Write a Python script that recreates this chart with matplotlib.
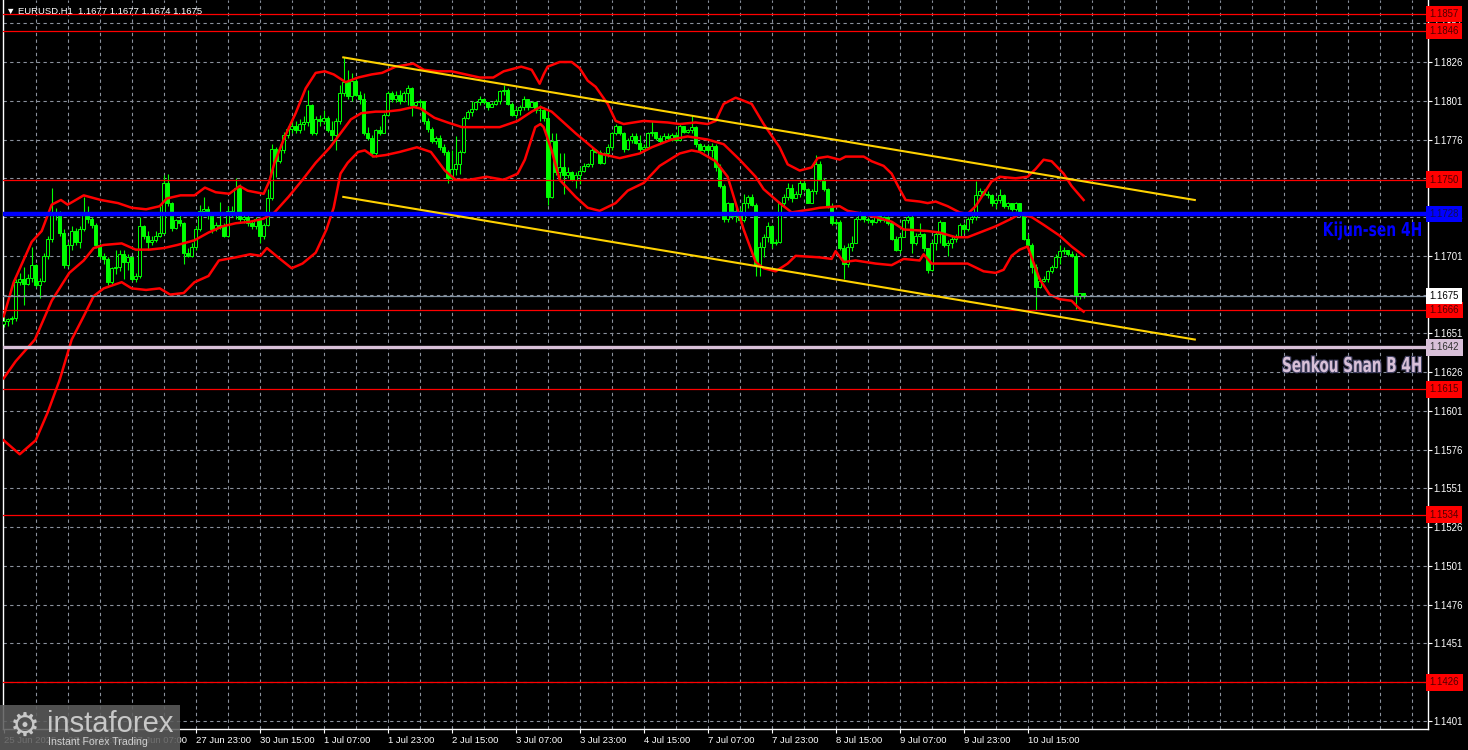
import matplotlib
matplotlib.use("Agg")
import matplotlib.pyplot as plt
import matplotlib.patheffects as pe
from matplotlib.patches import Rectangle, PathPatch
from matplotlib.textpath import TextPath
from matplotlib.font_manager import FontProperties
from matplotlib.transforms import Affine2D
import numpy as np

# EURUSD H1 candles, bar 0 = 25 Jun 23:00
first_open = 1.1657
closes = [
    1.1659, 1.1660, 1.1661, 1.1684, 1.1686, 1.1683, 1.1687, 1.1695, 1.1682, 1.1685,
    1.1701, 1.1712, 1.1729, 1.1728, 1.1716, 1.1695, 1.1708, 1.1717, 1.1710, 1.1718,
    1.1729, 1.1725, 1.1721, 1.1708, 1.1701, 1.1699, 1.1684, 1.1693, 1.1694, 1.1702,
    1.1697, 1.1700, 1.1686, 1.1688, 1.1720, 1.1714, 1.1710, 1.1711, 1.1714, 1.1716,
    1.1748, 1.1735, 1.1719, 1.1724, 1.1722, 1.1703, 1.1701, 1.1707, 1.1718, 1.1730,
    1.1731, 1.1728, 1.1718, 1.1721, 1.1720, 1.1714, 1.1730, 1.1728, 1.1745, 1.1725,
    1.1726, 1.1722, 1.1720, 1.1725, 1.1714, 1.1721, 1.1738, 1.1770, 1.1762, 1.1769,
    1.1779, 1.1783, 1.1785, 1.1782, 1.1786, 1.1787, 1.1798, 1.1780, 1.1789, 1.1788,
    1.1790, 1.1782, 1.1779, 1.1788, 1.1806, 1.1813, 1.1804, 1.1814, 1.1805, 1.1802,
    1.1780, 1.1777, 1.1767, 1.1782, 1.1780, 1.1792, 1.1806, 1.1802, 1.1805, 1.1801,
    1.1806, 1.1809, 1.1798, 1.1800, 1.1801, 1.1788, 1.1783, 1.1775, 1.1777, 1.1771,
    1.1768, 1.1751, 1.1757, 1.1760, 1.1768, 1.1790, 1.1794, 1.1796, 1.1800, 1.1802,
    1.1800, 1.1797, 1.1799, 1.1801, 1.1807, 1.1808, 1.1799, 1.1792, 1.1795, 1.1797,
    1.1802, 1.1797, 1.1800, 1.1795, 1.1795, 1.1790, 1.1739, 1.1775, 1.1755, 1.1758,
    1.1753, 1.1755, 1.1750, 1.1753, 1.1756, 1.1759, 1.1760, 1.1769, 1.1768, 1.1761,
    1.1767, 1.1771, 1.1780, 1.1785, 1.1780, 1.1770, 1.1776, 1.1778, 1.1774, 1.1770,
    1.1771, 1.1780, 1.1781, 1.1777, 1.1775, 1.1778, 1.1777, 1.1779, 1.1776, 1.1785,
    1.1781, 1.1782, 1.1784, 1.1773, 1.1769, 1.1772, 1.1769, 1.1772, 1.1758, 1.1746,
    1.1725, 1.1735, 1.1727, 1.1730, 1.1724, 1.1735, 1.1739, 1.1734, 1.1695, 1.1707,
    1.1713, 1.1720, 1.1709, 1.1710, 1.1735, 1.1739, 1.1745, 1.1738, 1.1741, 1.1748,
    1.1744, 1.1735, 1.1743, 1.1760, 1.1750, 1.1744, 1.1733, 1.1722, 1.1723, 1.1706,
    1.1696, 1.1707, 1.1709, 1.1725, 1.1728, 1.1725, 1.1724, 1.1723, 1.1728, 1.1724,
    1.1726, 1.1722, 1.1712, 1.1705, 1.1713, 1.1724, 1.1726, 1.1709, 1.1714, 1.1715,
    1.1706, 1.1692, 1.1709, 1.1715, 1.1723, 1.1708, 1.1709, 1.1712, 1.1714, 1.1721,
    1.1718, 1.1725, 1.1726, 1.1740, 1.1743, 1.1741, 1.1740, 1.1735, 1.1737, 1.1740,
    1.1733, 1.1735, 1.1731, 1.1735, 1.1728, 1.1712, 1.1708, 1.1694, 1.1681, 1.1685,
    1.1686, 1.1691, 1.1694, 1.1700, 1.1704, 1.1705, 1.1702, 1.1701, 1.1675, 1.1677,
    1.1675,
]
highs = [
    1.1662, 1.1661, 1.1662, 1.1686, 1.1690, 1.1694, 1.1689, 1.1707, 1.1696, 1.1687,
    1.1703, 1.1714, 1.1745, 1.1732, 1.1730, 1.1718, 1.1710, 1.1720, 1.1719, 1.1720,
    1.1739, 1.1733, 1.1726, 1.1722, 1.1709, 1.1703, 1.1700, 1.1694, 1.1705, 1.1705,
    1.1705, 1.1702, 1.1701, 1.1690, 1.1726, 1.1721, 1.1717, 1.1714, 1.1717, 1.1733,
    1.1753, 1.1754, 1.1736, 1.1725, 1.1729, 1.1723, 1.1706, 1.1709, 1.1720, 1.1734,
    1.1739, 1.1733, 1.1729, 1.1723, 1.1736, 1.1722, 1.1733, 1.1733, 1.1751, 1.1747,
    1.1729, 1.1728, 1.1724, 1.1726, 1.1726, 1.1722, 1.1744, 1.1773, 1.1771, 1.1773,
    1.1781, 1.1785, 1.1788, 1.1788, 1.1789, 1.1791, 1.1808, 1.1799, 1.1791, 1.1792,
    1.1795, 1.1791, 1.1788, 1.1790, 1.1811, 1.1829, 1.1821, 1.1819, 1.1815, 1.1807,
    1.1806, 1.1784, 1.1779, 1.1783, 1.1785, 1.1793, 1.1807, 1.1807, 1.1807, 1.1808,
    1.1807, 1.1811, 1.1810, 1.1801, 1.1802, 1.1801, 1.1790, 1.1784, 1.1778, 1.1779,
    1.1773, 1.1769, 1.1769, 1.1778, 1.1769, 1.1791, 1.1795, 1.1801, 1.1801, 1.1804,
    1.1803, 1.1800, 1.1800, 1.1802, 1.1808, 1.1811, 1.1809, 1.1800, 1.1797, 1.1798,
    1.1804, 1.1802, 1.1801, 1.1801, 1.1798, 1.1797, 1.1795, 1.1780, 1.1780, 1.1767,
    1.1767, 1.1758, 1.1756, 1.1755, 1.1758, 1.1761, 1.1761, 1.1771, 1.1770, 1.1769,
    1.1768, 1.1773, 1.1781, 1.1786, 1.1785, 1.1781, 1.1777, 1.1780, 1.1780, 1.1779,
    1.1773, 1.1781, 1.1788, 1.1781, 1.1779, 1.1780, 1.1780, 1.1780, 1.1781, 1.1786,
    1.1785, 1.1783, 1.1791, 1.1785, 1.1774, 1.1773, 1.1773, 1.1774, 1.1773, 1.1760,
    1.1747, 1.1736, 1.1735, 1.1733, 1.1732, 1.1741, 1.1740, 1.1741, 1.1735, 1.1710,
    1.1715, 1.1723, 1.1721, 1.1712, 1.1736, 1.1741, 1.1748, 1.1747, 1.1743, 1.1750,
    1.1750, 1.1745, 1.1744, 1.1766, 1.1762, 1.1751, 1.1745, 1.1735, 1.1725, 1.1724,
    1.1708, 1.1709, 1.1714, 1.1726, 1.1730, 1.1729, 1.1726, 1.1725, 1.1729, 1.1729,
    1.1727, 1.1727, 1.1723, 1.1714, 1.1715, 1.1725, 1.1728, 1.1728, 1.1716, 1.1722,
    1.1716, 1.1706, 1.1711, 1.1717, 1.1724, 1.1723, 1.1711, 1.1714, 1.1715, 1.1722,
    1.1722, 1.1726, 1.1728, 1.1749, 1.1745, 1.1744, 1.1743, 1.1741, 1.1738, 1.1744,
    1.1741, 1.1736, 1.1735, 1.1736, 1.1735, 1.1729, 1.1715, 1.1709, 1.1696, 1.1687,
    1.1688, 1.1692, 1.1695, 1.1702, 1.1708, 1.1707, 1.1705, 1.1704, 1.1703, 1.1677,
    1.1677,
]
lows = [
    1.1655, 1.1656, 1.1657, 1.1659, 1.1682, 1.1669, 1.1682, 1.1684, 1.1681, 1.1674,
    1.1684, 1.1699, 1.1710, 1.1724, 1.1714, 1.1693, 1.1694, 1.1705, 1.1708, 1.1706,
    1.1717, 1.1722, 1.1719, 1.1706, 1.1699, 1.1696, 1.1682, 1.1683, 1.1689, 1.1691,
    1.1686, 1.1692, 1.1685, 1.1684, 1.1687, 1.1712, 1.1705, 1.1708, 1.1710, 1.1713,
    1.1715, 1.1733, 1.1717, 1.1718, 1.1720, 1.1696, 1.1700, 1.1700, 1.1705, 1.1717,
    1.1728, 1.1725, 1.1716, 1.1717, 1.1718, 1.1713, 1.1713, 1.1726, 1.1725, 1.1723,
    1.1722, 1.1720, 1.1718, 1.1718, 1.1709, 1.1712, 1.1720, 1.1737, 1.1752, 1.1761,
    1.1767, 1.1777, 1.1780, 1.1780, 1.1780, 1.1782, 1.1785, 1.1779, 1.1779, 1.1785,
    1.1786, 1.1781, 1.1776, 1.1769, 1.1786, 1.1804, 1.1802, 1.1801, 1.1804, 1.1799,
    1.1779, 1.1776, 1.1765, 1.1765, 1.1779, 1.1780, 1.1791, 1.1800, 1.1800, 1.1799,
    1.1800, 1.1798, 1.1791, 1.1797, 1.1797, 1.1786, 1.1781, 1.1774, 1.1773, 1.1769,
    1.1766, 1.1748, 1.1750, 1.1753, 1.1754, 1.1767, 1.1789, 1.1791, 1.1795, 1.1798,
    1.1799, 1.1795, 1.1798, 1.1798, 1.1799, 1.1805, 1.1798, 1.1791, 1.1790, 1.1792,
    1.1795, 1.1795, 1.1798, 1.1793, 1.1788, 1.1788, 1.1734, 1.1738, 1.1753, 1.1750,
    1.1741, 1.1751, 1.1749, 1.1745, 1.1747, 1.1755, 1.1758, 1.1758, 1.1767, 1.1760,
    1.1760, 1.1765, 1.1769, 1.1779, 1.1779, 1.1768, 1.1769, 1.1774, 1.1773, 1.1768,
    1.1768, 1.1770, 1.1778, 1.1776, 1.1774, 1.1775, 1.1776, 1.1775, 1.1775, 1.1775,
    1.1780, 1.1780, 1.1780, 1.1771, 1.1768, 1.1768, 1.1767, 1.1765, 1.1756, 1.1745,
    1.1723, 1.1723, 1.1725, 1.1723, 1.1722, 1.1723, 1.1732, 1.1733, 1.1688, 1.1688,
    1.1700, 1.1710, 1.1706, 1.1708, 1.1709, 1.1733, 1.1737, 1.1736, 1.1738, 1.1739,
    1.1743, 1.1735, 1.1735, 1.1741, 1.1749, 1.1743, 1.1732, 1.1721, 1.1721, 1.1705,
    1.1686, 1.1694, 1.1704, 1.1709, 1.1724, 1.1723, 1.1722, 1.1721, 1.1722, 1.1723,
    1.1723, 1.1721, 1.1711, 1.1704, 1.1703, 1.1713, 1.1722, 1.1703, 1.1708, 1.1713,
    1.1704, 1.1690, 1.1691, 1.1705, 1.1709, 1.1707, 1.1701, 1.1706, 1.1710, 1.1713,
    1.1716, 1.1717, 1.1722, 1.1724, 1.1739, 1.1740, 1.1738, 1.1733, 1.1732, 1.1735,
    1.1732, 1.1731, 1.1730, 1.1730, 1.1726, 1.1711, 1.1706, 1.1690, 1.1666, 1.1680,
    1.1684, 1.1684, 1.1690, 1.1693, 1.1696, 1.1702, 1.1701, 1.1700, 1.1667, 1.1673,
    1.1674,
]

# Bollinger bands (bar index, price)
bb_up_x = [0, 2.5, 7, 9.5, 12, 14.3, 16, 20, 24.3, 28.6, 32, 35.6, 39, 40.8, 44.2, 47.7,
           50.3, 53, 56.4, 59, 61, 65, 66.4, 67.7, 70.3, 73, 75.5, 78, 80.3, 82.5, 85.5,
           88.6, 92, 94.6, 98, 102.4, 105, 108.5, 112, 115.5, 119, 122.4, 125, 129.4, 132,
           134, 135, 136, 139, 142, 144, 146, 148, 151, 153, 155, 160, 166, 169, 173, 176,
           178, 180, 183, 187, 190, 194, 196, 199, 202, 203.5, 206, 209, 210.5, 215, 217,
           220, 222, 224, 225.5, 229, 231, 233, 236, 239, 241, 243, 245, 247, 249, 253,
           256, 258, 260, 262, 265, 267, 270]
bb_up_y = [1.1662, 1.1684, 1.1710, 1.1717, 1.1734, 1.1737, 1.1734, 1.1740, 1.1737, 1.1735,
           1.1732, 1.1731, 1.1733, 1.1738, 1.1740, 1.1740, 1.1745, 1.1742, 1.1741, 1.1746,
           1.1743, 1.1741, 1.1749, 1.1761, 1.1778, 1.1793, 1.1809, 1.1819, 1.1820, 1.1818,
           1.1813, 1.1816, 1.1818, 1.1819, 1.1823, 1.1825, 1.1821, 1.1820, 1.1820, 1.1818,
           1.1816, 1.1816, 1.1820, 1.1823, 1.1821, 1.1812, 1.1818, 1.1823, 1.1826, 1.1826,
           1.1822, 1.1814, 1.1810, 1.1799, 1.1788, 1.1786, 1.1788, 1.1787, 1.1786, 1.1787,
           1.1786, 1.1788, 1.1799, 1.1803, 1.1799, 1.1786, 1.1771, 1.1760, 1.1756, 1.1758,
           1.1764, 1.1765, 1.1763, 1.1765, 1.1765, 1.1762, 1.1759, 1.1754, 1.1744, 1.1737,
           1.1736, 1.1735, 1.1736, 1.1733, 1.1729, 1.1728, 1.1733, 1.1741, 1.1749, 1.1752,
           1.1751, 1.1752, 1.1757, 1.1763, 1.1762, 1.1754, 1.1746, 1.1737]
bb_mid_x = [0, 3, 7.8, 12, 16.4, 20, 22.5, 25, 29.5, 33, 36.4, 40, 43.4, 47.7, 51.2, 54.7,
            58, 61.6, 65, 67.7, 71.2, 74.7, 78, 81.6, 84.2, 86.8, 89.4, 93, 95.5, 99, 102.5,
            104.2, 107.7, 111, 114.6, 119, 124, 128.5, 132, 134.2, 137, 143, 149, 154, 159,
            162, 167, 171, 176, 180, 184, 188, 190, 194, 197, 202, 204, 209, 211, 215, 218,
            222, 225, 231, 234, 238, 241, 245, 248, 252, 254, 257, 260, 264, 267, 270]
bb_mid_y = [1.1622, 1.1633, 1.1647, 1.1672, 1.1690, 1.1698, 1.1706, 1.1708, 1.1709, 1.1705,
            1.1705, 1.1706, 1.1708, 1.1711, 1.1716, 1.1720, 1.1722, 1.1723, 1.1725, 1.1729,
            1.1739, 1.1750, 1.1761, 1.1771, 1.1780, 1.1789, 1.1793, 1.1794, 1.1794, 1.1795,
            1.1797, 1.1796, 1.1790, 1.1787, 1.1784, 1.1784, 1.1784, 1.1788, 1.1794, 1.1797,
            1.1794, 1.1780, 1.1767, 1.1764, 1.1767, 1.1771, 1.1776, 1.1778, 1.1776, 1.1773,
            1.1763, 1.1752, 1.1744, 1.1735, 1.1729, 1.1731, 1.1732, 1.1733, 1.1730, 1.1728,
            1.1726, 1.1723, 1.1718, 1.1717, 1.1716, 1.1713, 1.1713, 1.1717, 1.1720, 1.1725,
            1.1728, 1.1726, 1.1721, 1.1714, 1.1707, 1.1701]
bb_low_x = [0, 4, 8, 11, 14, 17, 20, 22.5, 25, 29.5, 32, 35.6, 39, 41.6, 45, 47.7, 51.2,
            53.8, 58, 61.6, 64.2, 65.8, 68.6, 72, 74.7, 78, 80.7, 82.5, 84.2, 86, 88.6, 90.3,
            92.5, 95.5, 99, 103.3, 106.8, 110.3, 113, 116.4, 120.7, 125, 128.5, 130.3, 132.9,
            134.2, 135, 137, 139, 143, 146, 149, 153, 156, 160, 164, 169, 172, 174, 178, 181,
            185, 188, 190, 193, 196, 198, 204, 207, 208, 210, 213, 218, 222, 225, 229, 230,
            232, 238, 241, 245, 248, 250, 252, 254, 256, 257, 259, 261.5, 264, 267, 268.5, 270]
bb_low_y = [1.1582, 1.1573, 1.1582, 1.1600, 1.1621, 1.1647, 1.1662, 1.1675, 1.1680, 1.1684,
            1.1680, 1.1679, 1.1680, 1.1676, 1.1677, 1.1684, 1.1688, 1.1698, 1.1700, 1.1702,
            1.1701, 1.1706, 1.1700, 1.1693, 1.1696, 1.1703, 1.1718, 1.1732, 1.1754, 1.1761,
            1.1768, 1.1769, 1.1765, 1.1766, 1.1768, 1.1771, 1.1768, 1.1756, 1.1750, 1.1750,
            1.1752, 1.1750, 1.1754, 1.1763, 1.1784, 1.1786, 1.1784, 1.1769, 1.1750, 1.1739,
            1.1732, 1.1730, 1.1735, 1.1743, 1.1748, 1.1759, 1.1767, 1.1769, 1.1768, 1.1762,
            1.1752, 1.1718, 1.1697, 1.1693, 1.1691, 1.1696, 1.1701, 1.1700, 1.1699, 1.1704,
            1.1697, 1.1698, 1.1696, 1.1695, 1.1699, 1.1698, 1.1702, 1.1696, 1.1696, 1.1696,
            1.1691, 1.1690, 1.1692, 1.1701, 1.1705, 1.1707, 1.1700, 1.1686, 1.1676, 1.1673,
            1.1672, 1.1668, 1.1665]

# descending channel
chan_x = [84.9, 297.8]
chan_top = [1.1829, 1.1737]
chan_bot = [1.1739, 1.1647]

red_levels = [1.1857, 1.1846, 1.1750, 1.1666, 1.1615, 1.1534, 1.1426]
kijun = 1.1728
senkou_b = 1.1642
last_price = 1.1675

y_ticks = [1.1851, 1.1826, 1.1801, 1.1776, 1.1751, 1.1726, 1.1701, 1.1676, 1.1651, 1.1626,
           1.1601, 1.1576, 1.1551, 1.1526, 1.1501, 1.1476, 1.1451, 1.1426, 1.1401]
hidden_ticks = [1.1751, 1.1676, 1.1426]   # covered by the level boxes
x_tick_bars = [0, 16, 32, 48, 64, 80, 96, 112, 128, 144, 160, 176, 192, 208, 224, 240, 256]
x_tick_labels = ["25 Jun 2025", "26 Jun 15:00", "27 Jun 07:00", "27 Jun 23:00", "30 Jun 15:00",
                 "1 Jul 07:00", "1 Jul 23:00", "2 Jul 15:00", "3 Jul 07:00", "3 Jul 23:00",
                 "4 Jul 15:00", "7 Jul 07:00", "7 Jul 23:00", "8 Jul 15:00", "9 Jul 07:00",
                 "9 Jul 23:00", "10 Jul 15:00"]

LIME = "#00FF00"
GRID = "#8a919c"
SMALL = ["Liberation Sans", "DejaVu Sans"]

W, H = 1468, 750
fig = plt.figure(figsize=(W / 100, H / 100), dpi=100, facecolor="black")
ax = fig.add_axes([3 / W, 21 / H, 1425 / W, 729 / H])
ax.set_facecolor("black")
ax.set_xlim(-0.175, 356.1)
ax.set_ylim(1.13958, 1.18660)

# grid
for b in range(8, 357, 8):
    ax.axvline(b, color=GRID, lw=0.8, ls=(0, (3, 3)), zorder=0)
for v in y_ticks:
    ax.axhline(v, color=GRID, lw=0.8, ls=(0, (3, 3)), zorder=0)

# candles
x = np.arange(len(closes))
c = np.array(closes)
o = np.array([first_open] + closes[:-1])
hi = np.maximum(np.array(highs), np.maximum(o, c))
lo = np.minimum(np.array(lows), np.minimum(o, c))
bull = c >= o
ax.vlines(x, lo, hi, color=LIME, lw=0.8, zorder=2)
body_h = np.maximum(np.abs(c - o), 0.00003)
ax.bar(x, body_h, bottom=np.minimum(o, c), width=0.62,
       color=np.where(bull, "black", LIME), edgecolor=LIME, linewidth=0.7, zorder=3)

# bollinger bands
for bx, by in [(bb_up_x, bb_up_y), (bb_mid_x, bb_mid_y), (bb_low_x, bb_low_y)]:
    ax.plot(bx, by, color="#FF0000", lw=1.8, zorder=4, solid_joinstyle="round")

# levels
for v in red_levels:
    ax.axhline(v, color="#FF0000", lw=0.9, zorder=5)
ax.axhline(last_price, color="#8090a0", lw=0.9, zorder=5)
ax.axhline(senkou_b, color="#D8C0D8", lw=2.4, zorder=5)
ax.axhline(kijun, color="#0000FF", lw=3.2, zorder=5)

# channel
ax.plot(chan_x, chan_top, color="#FFD200", lw=1.5, zorder=6)
ax.plot(chan_x, chan_bot, color="#FFD200", lw=1.5, zorder=6)

# axes styling
for side in ["left", "right", "bottom"]:
    ax.spines[side].set_color("white")
    ax.spines[side].set_linewidth(1)
ax.spines["top"].set_visible(False)
ax.yaxis.tick_right()
ax.set_yticks(y_ticks)
ax.set_yticklabels(["" if v in hidden_ticks else f"{v:.4f}" for v in y_ticks], family=SMALL)
ax.tick_params(axis="y", colors="white", length=3, width=0.8, labelsize=6.9, pad=1)
ax.set_xticks(x_tick_bars)
ax.set_xticklabels(x_tick_labels, ha="left", family=SMALL)
ax.tick_params(axis="x", colors="white", length=3, width=0.8, labelsize=6.8, pad=2)

# price boxes on the right scale
tr = ax.get_yaxis_transform()
boxes = [(v, "#FF0000", "#500000") for v in red_levels]
boxes += [(kijun, "#0000FF", "#101050"), (last_price, "white", "black"),
          (senkou_b, "#D8C0D8", "#303030")]
for v, bg, fg in boxes:
    ax.text(1.0012, v, f"{v:.4f}", transform=tr, ha="left", va="center", fontsize=6.9,
            family=SMALL, color=fg, zorder=10, clip_on=False,
            bbox=dict(boxstyle="square,pad=0.35", fc=bg, ec="none"))


def squeezed_label(s, left, right, cap_top, baseline, face, effects=None):
    # bold text drawn as a path, squeezed to a narrow face like the terminal font
    fp = FontProperties(family="DejaVu Sans", weight="bold")
    path = TextPath((0, 0), s, size=10, prop=fp)
    ext = path.get_extents()
    cap = TextPath((0, 0), "H", size=10, prop=fp).get_extents()
    sx = (right - left) / ext.width
    sy = (baseline - cap_top) / cap.height
    t = (Affine2D().translate(-ext.x0, 0).scale(sx, sy)
         .translate(left, H - baseline).scale(1 / W, 1 / H) + fig.transFigure)
    patch = PathPatch(path, transform=t, fc=face, ec="none", zorder=8)
    if effects:
        patch.set_path_effects(effects)
    fig.add_artist(patch)


squeezed_label("Kijun-sen 4H", 1324, 1421, 222, 236, "#0000FF")
squeezed_label("Senkou Snan B 4H", 1283, 1421, 357, 372, "#D8C0D8",
               [pe.Stroke(linewidth=1.6, foreground="#404060"), pe.Normal()])

# header
fig.text(6 / W, 1 - 11 / H, "\u25bc EURUSD.H1  1.1677 1.1677 1.1674 1.1675",
         color="white", fontsize=6.8, va="center", family=SMALL)

# watermark logo
fig.add_artist(Rectangle((0, 0), 180 / W, 45 / H, transform=fig.transFigure,
                         fc="#5c5c5c", ec="none", alpha=0.88, zorder=20))
fig.text(25 / W, 1 - 726 / H, "\u2699", color="#c8c8c8", fontsize=24, ha="center",
         va="center", family="DejaVu Sans", zorder=21)
fig.text(47 / W, 1 - 724 / H, "instaforex", color="#c8c8c8", fontsize=21, va="center",
         family=SMALL, zorder=21)
fig.text(48 / W, 1 - 742 / H, "Instant Forex Trading", color="#d0d0d0", fontsize=7.6,
         va="center", family=SMALL, zorder=21)

fig.savefig("out.png", dpi=100, facecolor="black")
